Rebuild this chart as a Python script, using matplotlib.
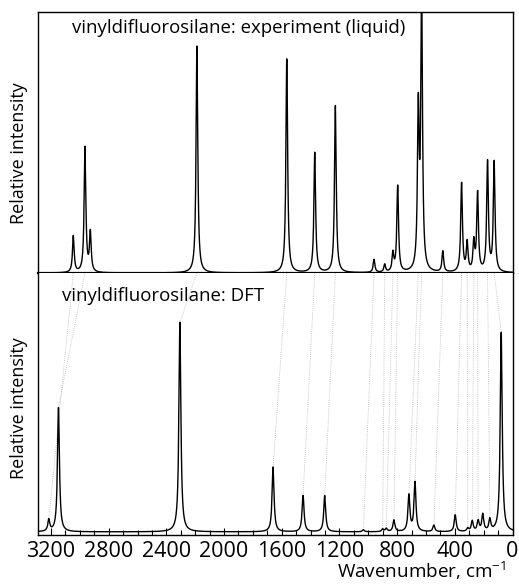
"""Raman spectrum of vinyldifluorosilane: liquid experiment (top) against DFT (bottom)."""

import matplotlib

matplotlib.use("Agg")
import matplotlib.pyplot as plt
import numpy as np

# Experimental (liquid) bands: position in cm-1 and peak height (relative).
EXP_CENTERS = [3045, 2964, 2927, 2188, 1565, 1371, 1228, 960, 886, 829, 796,
               653, 630, 483, 353, 314, 268, 242, 173, 127]
EXP_HEIGHTS = [0.14, 0.48, 0.15, 0.87, 0.82, 0.46, 0.64, 0.05, 0.03, 0.07, 0.33,
               0.60, 1.05, 0.08, 0.34, 0.11, 0.11, 0.30, 0.42, 0.42]

# DFT bands: position in cm-1 and peak height (relative).
DFT_CENTERS = [3215, 3148, 2306, 1660, 1452, 1302, 1034, 900, 875, 822,
               718, 676, 545, 397, 310, 279, 238, 206, 157, 78]
DFT_HEIGHTS = [0.045, 0.48, 0.81, 0.25, 0.14, 0.14, 0.008, 0.01, 0.012, 0.045,
               0.14, 0.19, 0.025, 0.065, 0.012, 0.04, 0.04, 0.065, 0.045, 0.77]

# Dotted guide lines: experimental band -> matching DFT band.
LINK_EXP = [3045, 2964, 2188, 1565, 1371, 1228, 960, 886, 829, 796,
            653, 630, 483, 353, 314, 268, 242, 173, 127]
LINK_DFT = [3215, 3148, 2306, 1660, 1452, 1302, 1034, 900, 875, 822,
            718, 676, 545, 397, 310, 279, 238, 157, 78]

TICKS = [3200, 2800, 2400, 2000, 1600, 1200, 800, 400, 0]

FONT = ["Open Sans", "DejaVu Sans"]


def spectrum(grid, centers, heights, hwhm):
    """Sum of Lorentzian bands evaluated on the wavenumber grid."""
    total = np.zeros_like(grid)
    for center, height in zip(centers, heights):
        total += height * hwhm ** 2 / ((grid - center) ** 2 + hwhm ** 2)
    return total


def main():
    plt.rcParams["font.family"] = FONT
    plt.rcParams["mathtext.default"] = "regular"

    fig = plt.figure(figsize=(5.19, 5.85), dpi=100)
    left, right = 38 / 519, 512.5 / 519
    y_mid = 1 - 273 / 585
    ax_top = fig.add_axes([left, y_mid, right - left, (1 - 12 / 585) - y_mid])
    ax_bot = fig.add_axes([left, 1 - 535 / 585, right - left, y_mid - (1 - 535 / 585)])

    grid = np.linspace(0, 3300, 8000)
    exp = spectrum(grid, EXP_CENTERS, EXP_HEIGHTS, 7.0)
    dft = spectrum(grid, DFT_CENTERS, DFT_HEIGHTS, 8.0)

    ax_top.plot(grid, exp, color="black", linewidth=1.0)
    ax_bot.plot(grid, dft, color="black", linewidth=1.0)

    for ax in (ax_top, ax_bot):
        ax.set_xlim(3290, 0)
        ax.set_yticks([])
        for spine in ax.spines.values():
            spine.set_linewidth(1.0)
    ax_top.set_ylim(0, 1.0)
    ax_bot.set_ylim(-0.012, 1.0)
    ax_top.spines["bottom"].set_linewidth(1.6)
    ax_bot.spines["top"].set_visible(False)

    ax_top.set_xticks([])
    ax_bot.set_xticks(TICKS)
    ax_bot.set_xticklabels([str(t) for t in TICKS])
    ax_bot.set_xticks(np.arange(100, 3300, 100), minor=True)
    ax_bot.tick_params(axis="x", which="major", direction="in", length=5, width=0.8,
                       labelsize=15.5, pad=4)
    ax_bot.tick_params(axis="x", which="minor", direction="in", length=3.5, width=0.8)

    # Guide lines from each experimental band down to its DFT partner.
    top = ax_bot.get_ylim()[1]
    for w_exp, w_dft in zip(LINK_EXP, LINK_DFT):
        peak = np.interp(w_dft, grid, dft)
        ax_bot.plot([w_exp, w_dft], [top, peak], color="#b8b8b8", linewidth=0.6,
                    linestyle=(0, (1, 1.5)), zorder=1)

    ax_top.text(72 / 519, 1 - 28 / 585, "vinyldifluorosilane: experiment (liquid)",
                transform=fig.transFigure, fontsize=13.4, va="center", ha="left")
    ax_bot.text(62 / 519, 1 - 296 / 585, "vinyldifluorosilane: DFT",
                transform=fig.transFigure, fontsize=13.4, va="center", ha="left")

    fig.text(19 / 519, 1 - 153 / 585, "Relative intensity", rotation=90,
             fontsize=13, va="center", ha="center")
    fig.text(19 / 519, 1 - 408 / 585, "Relative intensity", rotation=90,
             fontsize=13, va="center", ha="center")
    fig.text(506 / 519, 1 - 582 / 585, "Wavenumber, cm$^{-1}$",
             fontsize=13.6, va="bottom", ha="right")

    fig.savefig("out.png", dpi=100)
    plt.close(fig)


if __name__ == "__main__":
    main()
